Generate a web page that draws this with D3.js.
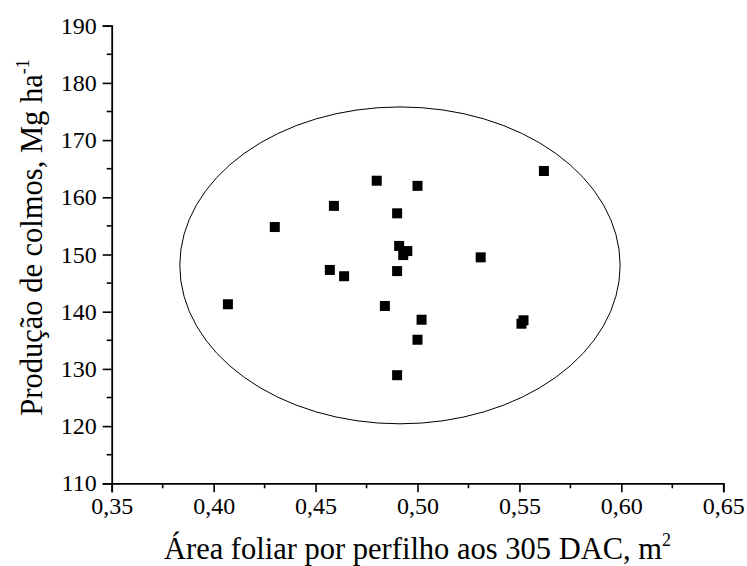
<!DOCTYPE html>
<html>
<head>
<meta charset="utf-8">
<script src="https://cdn.jsdelivr.net/npm/d3@7"></script>
<style>
  html, body { margin: 0; padding: 0; background: #fff; }
  svg, svg text { font-family: 'Liberation Serif', 'Times New Roman', Times, serif; }
</style>
</head>
<body>
<svg id="chart" width="747" height="566"></svg>
<script>
// Leaf area per tiller (m²) vs. stalk yield (Mg ha-1)
const leafArea = [0.407, 0.430, 0.457, 0.459, 0.464, 0.480, 0.484, 0.490, 0.490, 0.491,
                  0.493, 0.495, 0.490, 0.500, 0.500, 0.502, 0.531, 0.551, 0.552, 0.562];
const stalkYield = [141.3, 154.8, 147.3, 158.5, 146.2, 162.9, 141.0, 157.2, 147.1, 151.5,
                    149.9, 150.6, 128.9, 162.0, 135.1, 138.6, 149.5, 137.9, 138.5, 164.6];

const xTicks = [0.35, 0.40, 0.45, 0.50, 0.55, 0.60, 0.65];
const yTicks = [110, 120, 130, 140, 150, 160, 170, 180, 190];
const xMinor = [0.375, 0.425, 0.475, 0.525, 0.575, 0.625];
const yMinor = [115, 125, 135, 145, 155, 165, 175, 185];

// Grouping ellipse (center and radii in data units)
const ellipseCenter = [0.4914, 148.1];
const ellipseRadii = [0.1080, 27.7];

const FONT = "'Liberation Serif', 'Times New Roman', Times, serif";

const svg = d3.select("#chart").attr("font-family", FONT);
const margin = { left: 111.7, right: 23.7, top: 25.7, bottom: 82.7 };
const W = 747, H = 566;

const x = d3.scaleLinear().domain([0.35, 0.65]).range([margin.left, W - margin.right]);
const y = d3.scaleLinear().domain([110, 190]).range([H - margin.bottom, margin.top]);

const fmt = d => d3.format(".2f")(d).replace(".", ",");

// Ellipse
svg.append("ellipse")
  .attr("cx", x(ellipseCenter[0]))
  .attr("cy", y(ellipseCenter[1]))
  .attr("rx", x(ellipseCenter[0] + ellipseRadii[0]) - x(ellipseCenter[0]))
  .attr("ry", y(ellipseCenter[1]) - y(ellipseCenter[1] + ellipseRadii[1]))
  .attr("fill", "none")
  .attr("stroke", "#000")
  .attr("stroke-width", 1);

// Points
const sz = 10;
svg.append("g").selectAll("rect")
  .data(d3.range(leafArea.length))
  .join("rect")
  .attr("x", i => x(leafArea[i]) - sz / 2)
  .attr("y", i => y(stalkYield[i]) - sz / 2)
  .attr("width", sz)
  .attr("height", sz)
  .attr("fill", "#000");

// X axis
const xAxis = svg.append("g")
  .attr("transform", `translate(0,${y(110)})`)
  .call(d3.axisBottom(x).tickValues(xTicks).tickFormat(fmt).tickSize(9).tickPadding(5));
xAxis.append("g").selectAll("line").data(xMinor).join("line")
  .attr("x1", d => x(d)).attr("x2", d => x(d))
  .attr("y1", 0).attr("y2", 5)
  .attr("stroke", "#000").attr("stroke-width", 1.6);

// Y axis
const yAxis = svg.append("g")
  .attr("transform", `translate(${x(0.35)},0)`)
  .call(d3.axisLeft(y).tickValues(yTicks).tickSize(9).tickPadding(6));
yAxis.append("g").selectAll("line").data(yMinor).join("line")
  .attr("y1", d => y(d)).attr("y2", d => y(d))
  .attr("x1", 0).attr("x2", -5)
  .attr("stroke", "#000").attr("stroke-width", 1.6);

[xAxis, yAxis].forEach(g => {
  g.attr("font-family", FONT).attr("font-size", 24);
  g.select(".domain").attr("stroke", "#000").attr("stroke-width", 1.8);
  g.selectAll(".tick line").attr("stroke", "#000").attr("stroke-width", 1.6);
  g.selectAll(".tick text").attr("fill", "#000");
});

// Axis titles
const xTitle = svg.append("text")
  .attr("x", (x(0.35) + x(0.65)) / 2)
  .attr("y", 559)
  .attr("text-anchor", "middle")
  .attr("font-size", 30.5)
  .attr("fill", "#000");
xTitle.append("tspan").text("Área foliar por perfilho aos 305 DAC, m");
xTitle.append("tspan").attr("dy", -13).attr("font-size", 18).text("2");

const yTitle = svg.append("text")
  .attr("transform", `translate(42,${(y(110) + y(190)) / 2 - 17}) rotate(-90)`)
  .attr("text-anchor", "middle")
  .attr("font-size", 30.5)
  .attr("fill", "#000");
yTitle.append("tspan").text("Produção de colmos, Mg ha");
yTitle.append("tspan").attr("dy", -13).attr("font-size", 18).text("-1");
</script>
</body>
</html>
